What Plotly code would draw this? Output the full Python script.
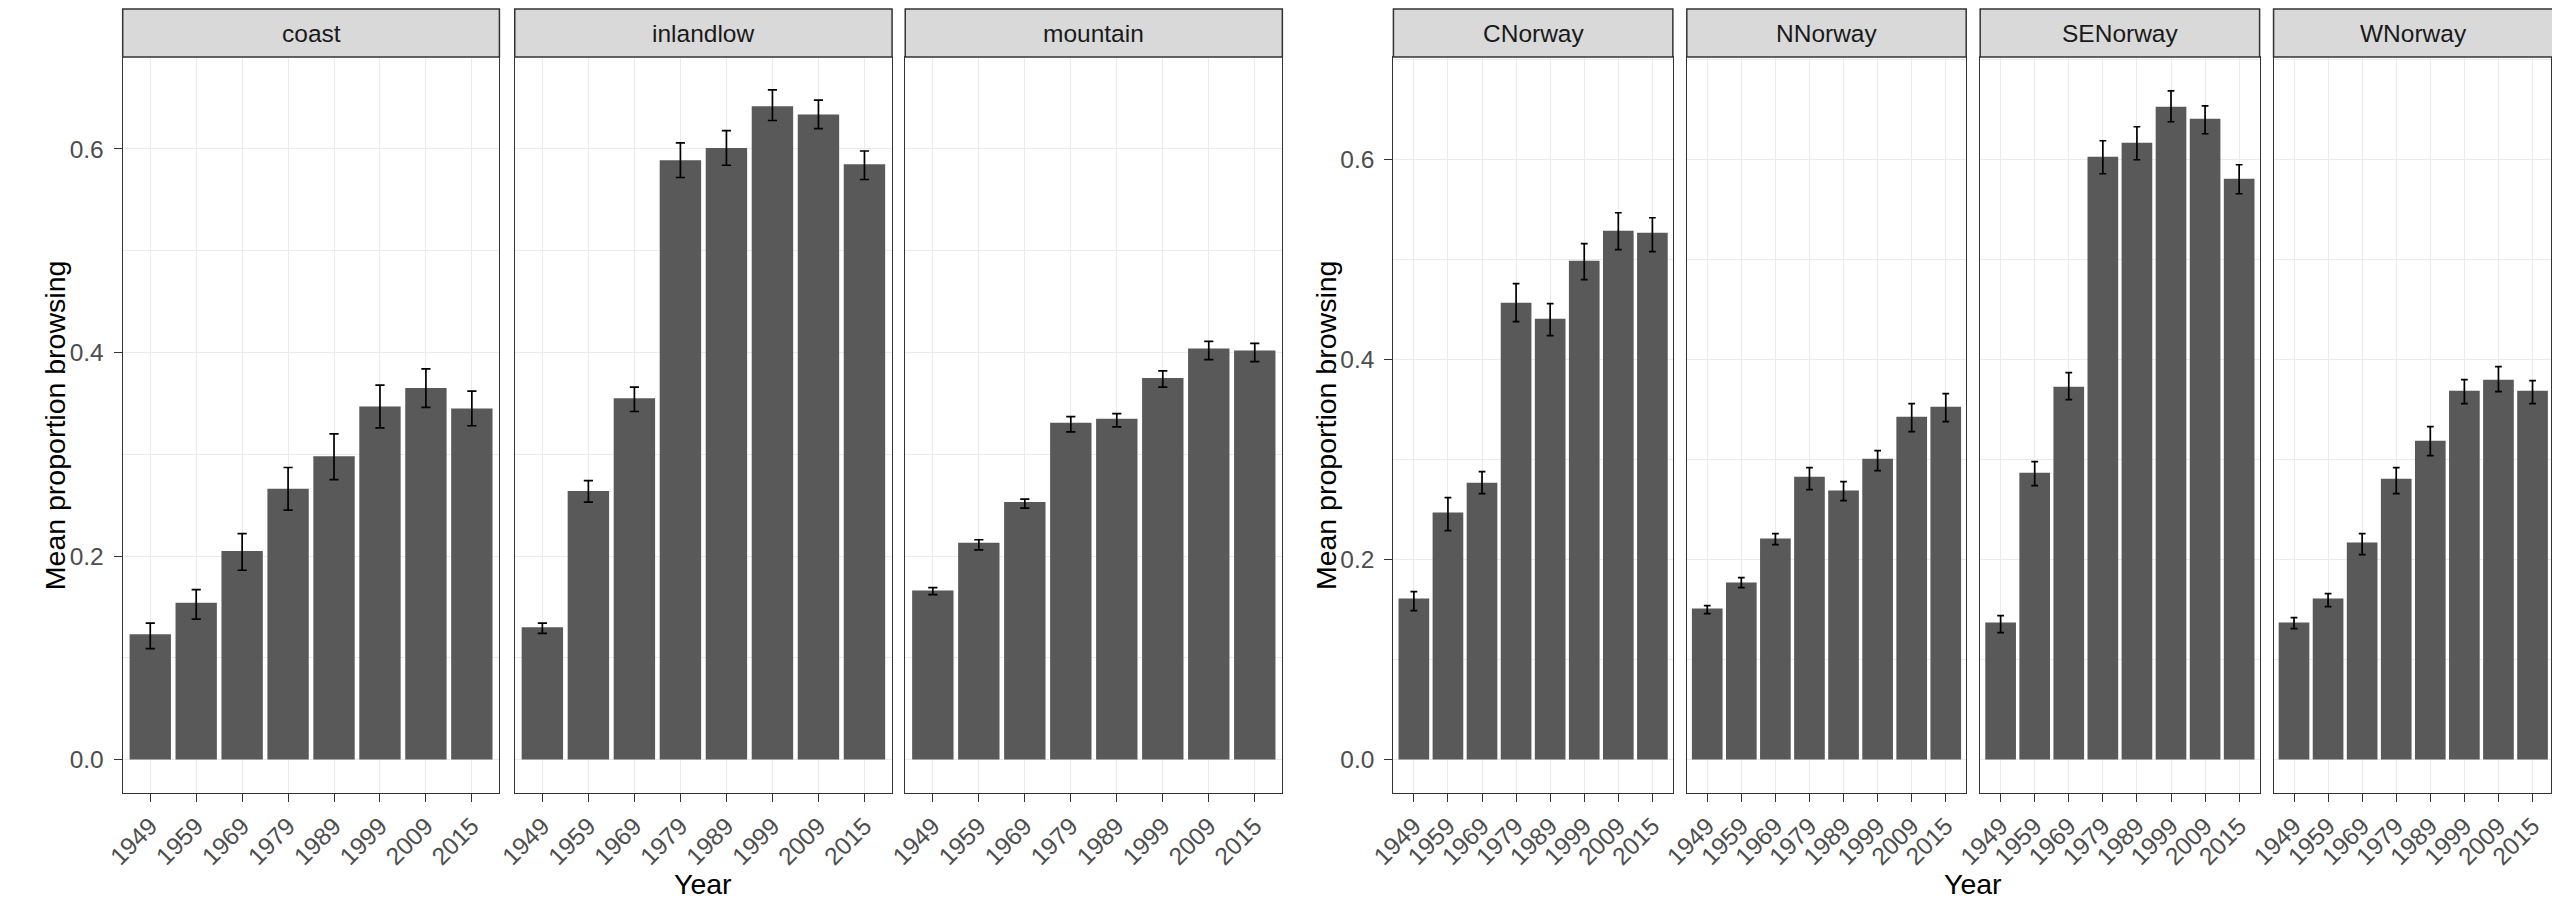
import plotly.graph_objects as go

W, H = 2552, 903

years = ["1949", "1959", "1969", "1979", "1989", "1999", "2009", "2015"]

# ---- Left figure: landscape type ----
coast_mean = [0.123, 0.154, 0.205, 0.266, 0.298, 0.347, 0.365, 0.345]
coast_lo   = [0.109, 0.138, 0.186, 0.245, 0.275, 0.326, 0.346, 0.328]
coast_hi   = [0.134, 0.167, 0.222, 0.287, 0.320, 0.368, 0.384, 0.362]

inland_mean = [0.130, 0.264, 0.355, 0.589, 0.601, 0.642, 0.634, 0.585]
inland_lo   = [0.124, 0.253, 0.342, 0.572, 0.584, 0.628, 0.620, 0.570]
inland_hi   = [0.134, 0.274, 0.366, 0.606, 0.618, 0.658, 0.648, 0.598]

mountain_mean = [0.166, 0.213, 0.253, 0.331, 0.335, 0.375, 0.404, 0.402]
mountain_lo   = [0.162, 0.206, 0.247, 0.322, 0.327, 0.366, 0.393, 0.391]
mountain_hi   = [0.169, 0.216, 0.256, 0.337, 0.340, 0.382, 0.411, 0.409]

# ---- Right figure: region ----
cnor_mean = [0.161, 0.247, 0.277, 0.457, 0.441, 0.499, 0.529, 0.527]
cnor_lo   = [0.149, 0.229, 0.266, 0.438, 0.424, 0.480, 0.510, 0.508]
cnor_hi   = [0.168, 0.262, 0.288, 0.476, 0.456, 0.516, 0.547, 0.542]

nnor_mean = [0.151, 0.177, 0.221, 0.283, 0.269, 0.301, 0.343, 0.353]
nnor_lo   = [0.146, 0.172, 0.215, 0.270, 0.259, 0.289, 0.328, 0.338]
nnor_hi   = [0.154, 0.182, 0.226, 0.292, 0.278, 0.309, 0.356, 0.366]

senor_mean = [0.137, 0.287, 0.373, 0.603, 0.617, 0.653, 0.641, 0.581]
senor_lo   = [0.127, 0.274, 0.360, 0.586, 0.600, 0.638, 0.626, 0.566]
senor_hi   = [0.144, 0.298, 0.387, 0.619, 0.633, 0.669, 0.654, 0.595]

wnor_mean = [0.137, 0.161, 0.217, 0.281, 0.319, 0.369, 0.380, 0.369]
wnor_lo   = [0.131, 0.153, 0.205, 0.266, 0.304, 0.356, 0.368, 0.356]
wnor_hi   = [0.142, 0.166, 0.226, 0.292, 0.333, 0.380, 0.393, 0.379]

left_range = [-0.0329, 0.6904]
right_range = [-0.0335, 0.7028]

FONT = "Liberation Sans, Arial, sans-serif"
SMALL = 24.5
TITLE = 28.5
BAR = "#595959"
GRID = "#EBEBEB"
EDGE = "#333333"

panels = [
    # name, x0px, x1px, mean, lo, hi, group
    ("coast", 98.7, 479.3, coast_mean, coast_lo, coast_hi, 0),
    ("inlandlow", 494.8, 876.0, inland_mean, inland_lo, inland_hi, 0),
    ("mountain", 889.3, 1270.3, mountain_mean, mountain_lo, mountain_hi, 0),
    ("CNorway", 1382.5, 1664.8, cnor_mean, cnor_lo, cnor_hi, 1),
    ("NNorway", 1678.9, 1961.2, nnor_mean, nnor_lo, nnor_hi, 1),
    ("SENorway", 1975.3, 2257.6, senor_mean, senor_lo, senor_hi, 1),
    ("WNorway", 2271.7, 2554.0, wnor_mean, wnor_lo, wnor_hi, 1),
]

panel_top, panel_bot = 57.0, 793.0
strip_top = 9.0


def px(p):
    return p / W


def py(p):
    return 1 - p / H


fig = go.Figure()
layout = dict(
    width=W, height=H,
    margin=dict(l=0, r=0, t=0, b=0),
    paper_bgcolor="white", plot_bgcolor="white",
    showlegend=False,
    font=dict(family=FONT),
)
shapes = []
annotations = []

xs = list(range(1, len(years) + 1))
first_in_group = {0: True, 1: True}

for i, (name, x0, x1, m, lo, hi, grp) in enumerate(panels):
    k = "" if i == 0 else str(i + 1)
    up = [h - v for h, v in zip(hi, m)]
    dn = [v - l for v, l in zip(m, lo)]
    capw = 4.6 if grp == 0 else 3.4
    fig.add_trace(go.Bar(
        x=xs, y=m, width=0.9,
        marker=dict(color=BAR, line=dict(width=0)),
        error_y=dict(type="data", symmetric=False, array=up, arrayminus=dn,
                     color="black", thickness=1.7, width=capw),
        xaxis="x" + k, yaxis="y" + k,
    ))
    d0 = px(x0)
    d1 = min(1.0, px(x1))
    # visible x-range (WNorway is clipped at the right page edge)
    full_w = x1 - x0
    vis_w = min(x1, W) - x0
    xr = [0.4, 0.4 + 8.2 * vis_w / full_w]
    first = first_in_group[grp]
    first_in_group[grp] = False
    layout["xaxis" + k] = dict(
        domain=[d0, d1], anchor="y" + k,
        range=xr, tickmode="array", tickvals=xs, ticktext=years,
        tickangle=-45, ticks="outside", ticklen=8, tickwidth=1.1, tickcolor=EDGE,
        tickfont=dict(size=SMALL, color="#4D4D4D", family=FONT),
        showgrid=True, gridcolor=GRID, gridwidth=1.4,
        showline=True, mirror=True, linecolor=EDGE, linewidth=1.2,
        zeroline=False, fixedrange=True,
    )
    layout["yaxis" + k] = dict(
        domain=[py(panel_bot), py(panel_top)], anchor="x" + k,
        range=left_range if grp == 0 else right_range,
        tickmode="linear", tick0=0, dtick=0.2, tickformat=".1f",
        ticks="outside" if first else "", ticklen=8, tickwidth=1.1, tickcolor=EDGE,
        showticklabels=first, ticklabelstandoff=5,
        tickfont=dict(size=SMALL, color="#4D4D4D", family=FONT),
        showgrid=True, gridcolor=GRID, gridwidth=1.4,
        minor=dict(tick0=0, dtick=0.1, showgrid=True, gridcolor=GRID, gridwidth=0.8, ticks=""),
        showline=True, mirror=True, linecolor=EDGE, linewidth=1.2,
        zeroline=False, fixedrange=True,
    )
    # facet strip
    shapes.append(dict(
        type="rect", xref="paper", yref="paper",
        x0=px(x0), x1=px(x1), y0=py(panel_top), y1=py(strip_top),
        fillcolor="#D9D9D9", line=dict(color=EDGE, width=1.5), layer="above",
    ))
    annotations.append(dict(
        text=name, xref="paper", yref="paper",
        x=px((x0 + x1) / 2), y=py((strip_top + panel_top) / 2),
        xanchor="center", yanchor="middle", showarrow=False,
        font=dict(size=SMALL, color="#1A1A1A", family=FONT),
    ))

# axis titles
left_center = (panels[0][1] + panels[2][2]) / 2
right_center = (panels[3][1] + panels[6][2]) / 2
annotations += [
    dict(text="Mean proportion browsing", xref="paper", yref="paper",
         x=px(30.5), y=py((panel_top + panel_bot) / 2), textangle=-90,
         xanchor="center", yanchor="middle", showarrow=False,
         font=dict(size=TITLE, color="black", family=FONT)),
    dict(text="Mean proportion browsing", xref="paper", yref="paper",
         x=px(1314.5), y=py((panel_top + panel_bot) / 2), textangle=-90,
         xanchor="center", yanchor="middle", showarrow=False,
         font=dict(size=TITLE, color="black", family=FONT)),
    dict(text="Year", xref="paper", yref="paper",
         x=px(left_center), y=py(884.0),
         xanchor="center", yanchor="middle", showarrow=False,
         font=dict(size=TITLE, color="black", family=FONT)),
    dict(text="Year", xref="paper", yref="paper",
         x=px(right_center), y=py(884.0),
         xanchor="center", yanchor="middle", showarrow=False,
         font=dict(size=TITLE, color="black", family=FONT)),
]

layout["shapes"] = shapes
layout["annotations"] = annotations
fig.update_layout(**layout)
fig.write_html("out.html")
